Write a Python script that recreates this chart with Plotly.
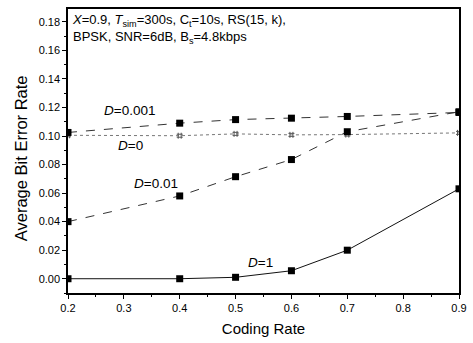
import plotly.graph_objects as go

coding_rate = [0.2, 0.4, 0.5, 0.6, 0.7, 0.9]
ber_d0001 = [0.1025, 0.109, 0.1115, 0.1125, 0.1137, 0.1165]
ber_d0 = [0.1005, 0.1002, 0.1015, 0.1008, 0.1010, 0.1022]
ber_d001 = [0.040, 0.058, 0.0715, 0.0835, 0.103, 0.117]
ber_d1 = [0.000, 0.000, 0.001, 0.0056, 0.020, 0.063]

x_ticks = [0.2, 0.3, 0.4, 0.5, 0.6, 0.7, 0.8, 0.9]
y_ticks = [0.00, 0.02, 0.04, 0.06, 0.08, 0.10, 0.12, 0.14, 0.16, 0.18]

fig = go.Figure()
fig.add_trace(go.Scatter(x=coding_rate, y=ber_d0, mode="lines+markers",
                         line=dict(color="#777", width=1, dash="dot"),
                         marker=dict(symbol="hash-open", size=6, color="#555", line=dict(width=1, color="#555"))))
fig.add_trace(go.Scatter(x=coding_rate, y=ber_d0001, mode="lines+markers",
                         line=dict(color="#333", width=1, dash="dash"),
                         marker=dict(symbol="square", size=7, color="black")))
fig.add_trace(go.Scatter(x=coding_rate, y=ber_d001, mode="lines+markers",
                         line=dict(color="#333", width=1, dash="dash"),
                         marker=dict(symbol="square", size=7, color="black")))
fig.add_trace(go.Scatter(x=coding_rate, y=ber_d1, mode="lines+markers",
                         line=dict(color="#111", width=1),
                         marker=dict(symbol="square", size=7, color="black")))

font = "Liberation Sans, Arial, sans-serif"
ann = [
    dict(x=0.3105, y=0.118, text="<i>D</i>=0.001"),
    dict(x=0.312, y=0.0933, text="<i>D</i>=0"),
    dict(x=0.358, y=0.0667, text="<i>D</i>=0.01"),
    dict(x=0.544, y=0.0112, text="<i>D</i>=1"),
]
for a in ann:
    fig.add_annotation(x=a["x"], y=a["y"], text=a["text"], showarrow=False,
                       font=dict(size=13.5, color="black", family=font))

fig.add_annotation(x=0.0, y=1.0, xref="paper", yref="paper", xanchor="left", yanchor="top",
                   xshift=2, yshift=-1, align="left", showarrow=False,
                   text="<i>X</i>=0.9, <i>T</i><sub>sim</sub>=300s, C<sub>t</sub>=10s, RS(15, k),<br>BPSK, SNR=6dB, B<sub>s</sub>=4.8kbps",
                   font=dict(size=13, color="black", family=font))

fig.add_annotation(x=-0.12, y=0.475, xref="paper", yref="paper", showarrow=False,
                   xanchor="center", yanchor="middle",
                   text="Average Bit Error Rate", textangle=-90,
                   font=dict(size=16.5, color="black", family=font))

fig.update_layout(
    width=473, height=343,
    margin=dict(l=68, r=6, t=9, b=50),
    paper_bgcolor="white", plot_bgcolor="white",
    showlegend=False,
    font=dict(family=font, color="black"),
    xaxis=dict(range=[0.2, 0.9], tickvals=x_ticks, ticktext=[f"{v:.1f}" for v in x_ticks],
               showgrid=False, zeroline=False, showline=True, linecolor="black", linewidth=1.5,
               mirror=True, ticks="outside", ticklen=4, tickwidth=1, tickcolor="black",
               minor=dict(ticks="outside", ticklen=2, dtick=0.05, tickcolor="black"),
               tickfont=dict(size=11), title=dict(text="Coding Rate", font=dict(size=15), standoff=11)),
    yaxis=dict(range=[-0.01, 0.189], tickvals=y_ticks, ticktext=[f"{v:.2f}" for v in y_ticks],
               showgrid=False, zeroline=False, showline=True, linecolor="black", linewidth=1.5,
               mirror=True, ticks="outside", ticklen=4, tickwidth=1, tickcolor="black",
               minor=dict(ticks="outside", ticklen=2, dtick=0.01, tickcolor="black"),
               tickfont=dict(size=11)),
)

fig.write_html("out.html")
